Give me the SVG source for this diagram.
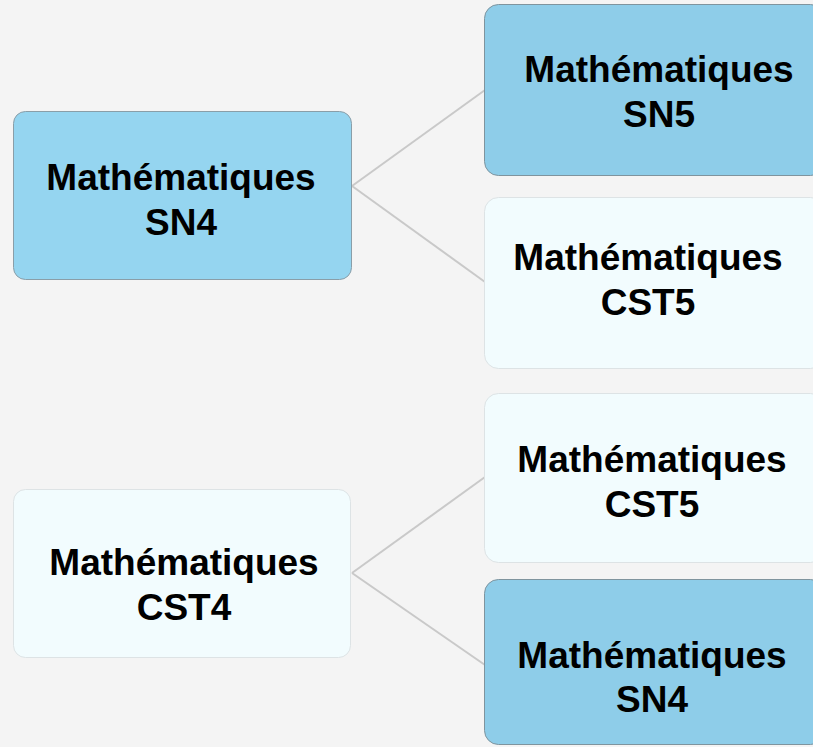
<svg xmlns="http://www.w3.org/2000/svg" width="813" height="747" viewBox="0 0 813 747">
<style>
.bg{fill:#f4f4f4}
.blue{fill:#95d5f0;stroke:#8a9ea8;stroke-width:1}
.blue2{fill:#8ecde9;stroke:#7f949e;stroke-width:1}
.pale{fill:#f2fcfe;stroke:#dde3e5;stroke-width:1}
.lbl{font-family:"Liberation Sans",Arial,sans-serif;font-weight:bold;font-size:37px;fill:#000;text-anchor:middle}
.conn{stroke:#c9c9c9;stroke-width:2;fill:none}
</style>
<rect class="bg" x="0" y="0" width="813" height="747"/>
<g id="connectors">
<line class="conn" x1="352" y1="186" x2="485" y2="90"/>
<line class="conn" x1="352" y1="186" x2="485" y2="282"/>
<line class="conn" x1="352" y1="573" x2="485" y2="477"/>
<line class="conn" x1="352" y1="573" x2="485" y2="665"/>
</g>
<g id="n-sn4">
<rect class="blue" x="13.5" y="111.5" width="338" height="168" rx="12"/>
<text class="lbl" x="181" y="190">Mathématiques</text>
<text class="lbl" x="181" y="235">SN4</text>
</g>
<g id="n-sn5">
<rect class="blue2" x="484.5" y="4.5" width="340" height="171" rx="14"/>
<text class="lbl" x="659" y="82">Mathématiques</text>
<text class="lbl" x="659" y="127">SN5</text>
</g>
<g id="n-cst5a">
<rect class="pale" x="484.5" y="197.5" width="340" height="171" rx="14"/>
<text class="lbl" x="648" y="270">Mathématiques</text>
<text class="lbl" x="648" y="315">CST5</text>
</g>
<g id="n-cst4">
<rect class="pale" x="13.5" y="489.5" width="337" height="168" rx="12"/>
<text class="lbl" x="184" y="575">Mathématiques</text>
<text class="lbl" x="184" y="620">CST4</text>
</g>
<g id="n-cst5b">
<rect class="pale" x="484.5" y="393.5" width="340" height="169" rx="14"/>
<text class="lbl" x="652" y="472">Mathématiques</text>
<text class="lbl" x="652" y="517">CST5</text>
</g>
<g id="n-sn4b">
<rect class="blue2" x="484.5" y="579.5" width="340" height="165" rx="14"/>
<text class="lbl" x="652" y="668">Mathématiques</text>
<text class="lbl" x="652" y="712">SN4</text>
</g>
</svg>
